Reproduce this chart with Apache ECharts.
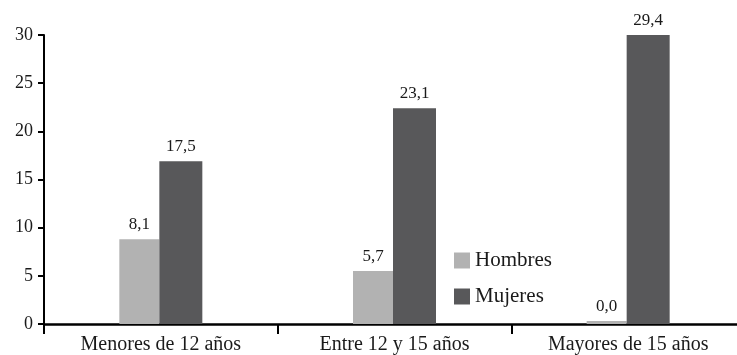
<!DOCTYPE html>
<html><head><meta charset="utf-8">
<script src="https://cdn.jsdelivr.net/npm/echarts@6/dist/echarts.min.js"></script>
<style>html,body{margin:0;padding:0;background:#fff;overflow:hidden}#c{width:745px;height:355px}</style>
</head><body><div id="c"></div>
<script>
const categories = ['Menores de 12 años', 'Entre 12 y 15 años', 'Mayores de 15 años'];
const seriesNames = ['Hombres', 'Mujeres'];
const hombres = [8.8, 5.5, 0.3];
const mujeres = [16.9, 22.4, 30.0];
const hombresLabels = ['8,1', '5,7', '0,0'];
const mujeresLabels = ['17,5', '23,1', '29,4'];
const yTicks = [0, 5, 10, 15, 20, 25, 30];

const font = '"Liberation Serif", "DejaVu Serif", serif';
const chart = echarts.init(document.getElementById('c'), null, {renderer: 'canvas'});
function mk(name, vals, labels, color, w) {
  return {
    name: name, type: 'bar', data: vals, barWidth: w, barGap: '0%',
    itemStyle: {color: color},
    label: {show: true, position: 'top', distance: 6, color: '#1a1a1a', fontFamily: font, fontSize: 17,
      formatter: p => labels[p.dataIndex]}
  };
}
chart.setOption({
  animation: false,
  grid: {left: 44, right: 0, top: 35, bottom: 31, containLabel: false},
  legend: {
    orient: 'vertical', left: 449, top: 245, itemWidth: 16, itemHeight: 16, itemGap: 15,
    icon: 'rect', textStyle: {fontFamily: font, fontSize: 21, color: '#1a1a1a'},
    data: seriesNames
  },
  xAxis: {
    type: 'category', data: categories,
    axisLine: {lineStyle: {color: '#000', width: 2.5}},
    axisTick: {show: true, length: 10, lineStyle: {color: '#000', width: 2}},
    axisLabel: {fontFamily: font, fontSize: 20, color: '#1a1a1a', margin: 11}
  },
  yAxis: {
    type: 'value', min: yTicks[0], max: yTicks[yTicks.length - 1], interval: 5,
    splitLine: {show: false},
    axisLine: {show: true, lineStyle: {color: '#000', width: 2}},
    axisTick: {show: true, length: 6, lineStyle: {color: '#000', width: 2}},
    axisLabel: {fontFamily: font, fontSize: 18, color: '#1a1a1a', margin: 11}
  },
  series: [
    mk(seriesNames[0], hombres, hombresLabels, '#b2b2b2', 40),
    mk(seriesNames[1], mujeres, mujeresLabels, '#58585a', 43)
  ]
});
</script></body></html>
